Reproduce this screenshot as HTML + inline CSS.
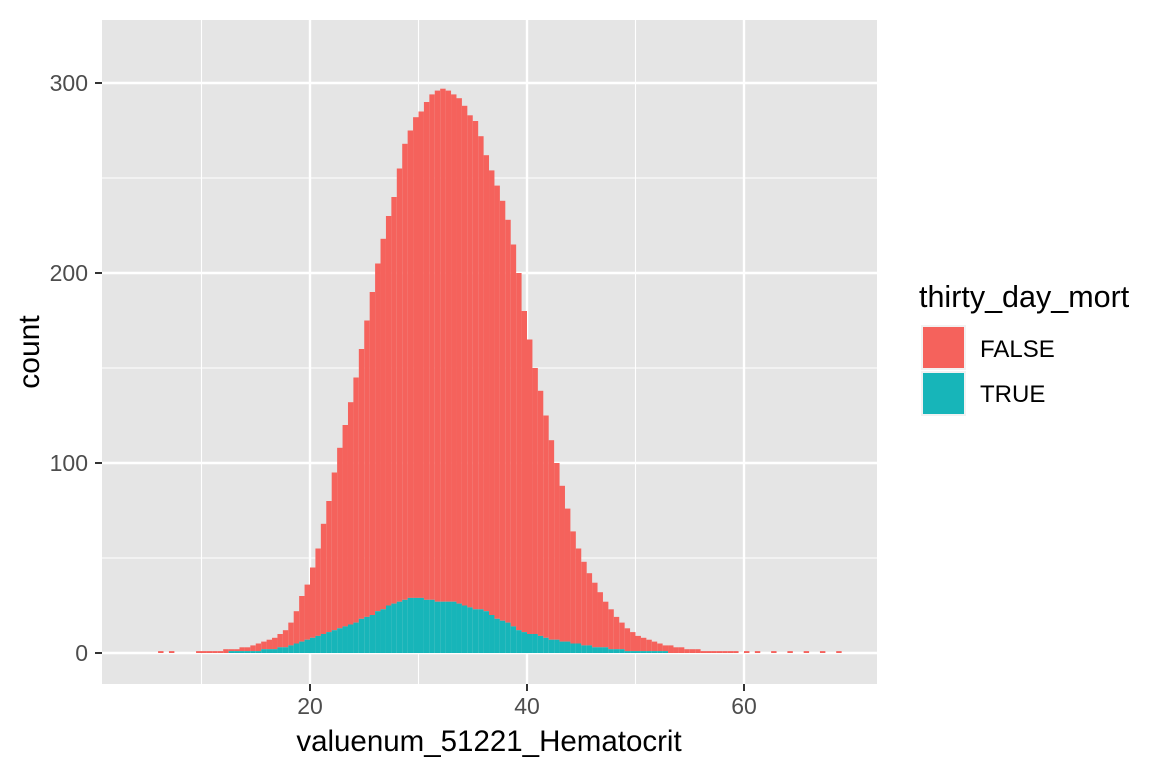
<!DOCTYPE html>
<html><head><meta charset="utf-8"><style>
body{margin:0;background:#fff;font-family:"Liberation Sans",Arial,sans-serif}
</style></head><body>
<svg id="chart" width="1152" height="768" xmlns="http://www.w3.org/2000/svg" font-family="Liberation Sans, Arial, sans-serif">
<rect x="102" y="20" width="775" height="664" fill="#E5E5E5"/>
<g id="grid"></g>
<g id="bars"></g>
<g id="axes"></g>
<text x="489" y="751" font-size="29.5" text-anchor="middle" fill="#000">valuenum_51221_Hematocrit</text>
<text transform="translate(39,352) rotate(-90)" font-size="30" text-anchor="middle" fill="#000">count</text>
<g>
<text x="919" y="307" font-size="30.5" fill="#000">thirty_day_mort</text>
<rect x="921" y="325" width="45" height="45" fill="#F2F2F2"/>
<rect x="923" y="327" width="41" height="41" fill="#F5625C"/>
<rect x="921" y="371" width="45" height="45" fill="#F2F2F2"/>
<rect x="923" y="373" width="41" height="41" fill="#17B5B9"/>
<text x="980" y="357" font-size="24" fill="#000">FALSE</text>
<text x="980" y="402" font-size="24" fill="#000">TRUE</text>
</g>
</svg>
<script>
const binStart = 5.0;
const binWidth = 0.5;
const totalCounts = [
0,0,1,0,1,0,0,0,0,1,
1,1,1,1,2,2,2,3,3,4,
5,6,7,8,10,12,16,22,30,36,
45,55,68,80,95,108,120,132,145,160,
175,190,205,218,230,240,255,268,275,282,
285,290,294,296,297,296,294,292,288,283,
280,272,262,254,246,238,228,215,200,180,
165,150,138,125,112,100,88,76,64,55,
48,42,37,32,27,23,19,16,13,11,
9,8,7,6,5,4,4,3,3,2,
2,2,1,1,1,1,1,1,1,0,
1,0,1,0,0,1,0,0,1,0,
0,1,0,0,1,0,0,1];
const trueCounts = [
0,0,0,0,0,0,0,0,0,0,
0,0,0,0,0,1,1,1,1,1,
1,2,2,2,3,3,4,5,6,7,
8,9,10,11,12,13,14,15,16,18,
19,20,22,23,25,26,27,28,29,29,
29,28,28,27,27,27,27,26,25,24,
23,23,22,20,18,17,16,14,12,11,
10,10,9,8,7,7,6,6,5,5,
4,4,3,3,3,2,2,2,1,1,
1,1,1,1,1,1,0,0,0,0,
0,0,0,0,0,0,0,0,0,0,
0,0,0,0,0,0,0,0,0,0,
0,0,0,0,0,0,0,0];
const xTicks = [20,40,60];
const xMinor = [10,30,50];
const yTicks = [0,100,200,300];
const yMinor = [50,150,250];

const NS="http://www.w3.org/2000/svg";
const xs = v => 93.0 + v*10.85;
const ys = v => 653 - v*1.9;
function mk(tag,attrs,parent){const e=document.createElementNS(NS,tag);for(const k in attrs)e.setAttribute(k,attrs[k]);parent.appendChild(e);return e;}
const grid=document.getElementById('grid'), bars=document.getElementById('bars'), axes=document.getElementById('axes');
xMinor.forEach(v=>{const l=mk('line',{x1:xs(v),x2:xs(v),y1:20,y2:684,stroke:'#fff','stroke-width':1.1},grid);

});
yMinor.forEach(v=>{const l=mk('line',{x1:102,x2:877,y1:ys(v),y2:ys(v),stroke:'#fff','stroke-width':1.1},grid);

});
xTicks.forEach(v=>{const l=mk('line',{x1:xs(v),x2:xs(v),y1:20,y2:684,stroke:'#fff','stroke-width':2.4},grid);


const t=mk('line',{x1:xs(v),x2:xs(v),y1:684,y2:691,stroke:'#333','stroke-width':2},axes);


const tx=mk('text',{x:xs(v),y:714,'font-size':23,'text-anchor':'middle',fill:'#4D4D4D'},axes);tx.textContent=v;

});
yTicks.forEach(v=>{const l=mk('line',{x1:102,x2:877,y1:ys(v),y2:ys(v),stroke:'#fff','stroke-width':2.4},grid);


const t=mk('line',{x1:95,x2:102,y1:ys(v),y2:ys(v),stroke:'#333','stroke-width':2},axes);


const tx=mk('text',{x:88,y:ys(v)+8,'font-size':23,'text-anchor':'end',fill:'#4D4D4D'},axes);tx.textContent=v;

});
totalCounts.forEach((tot,i)=>{
  const x0=xs(binStart+i*binWidth), x1=xs(binStart+(i+1)*binWidth);
  const tr=trueCounts[i];
  if(tot>tr){const r=mk('rect',{x:x0,y:ys(tot),width:x1-x0,height:ys(tr)-ys(tot),fill:'#F5625C'},bars);
  
  }
  if(tr>0){const r=mk('rect',{x:x0,y:ys(tr),width:x1-x0,height:ys(0)-ys(tr),fill:'#17B5B9'},bars);
  
  }
});
</script>
</body></html>
